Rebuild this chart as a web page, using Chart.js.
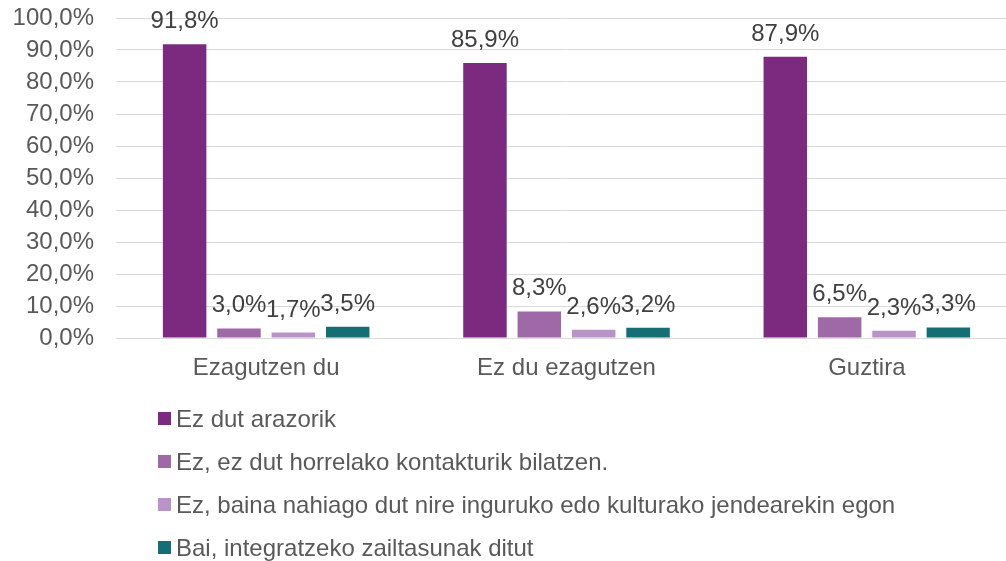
<!DOCTYPE html>
<html>
<head>
<meta charset="utf-8">
<script src="https://cdn.jsdelivr.net/npm/chart.js@4.4.0/dist/chart.umd.min.js"></script>
<style>
  html, body { margin: 0; padding: 0; background: #fff; overflow: hidden; width: 1006px; height: 561px; }
  #wrap { position: relative; width: 1006px; height: 561px; overflow: hidden; }
  canvas { position: absolute; left: 0; top: 0; }
  #legend { position: absolute; left: 158px; top: 397px; font-family: "Liberation Sans", Arial, sans-serif; font-size: 24px; color: #595959; }
  .item { display: flex; align-items: center; height: 43px; white-space: nowrap; }
  .sw { width: 13px; height: 13px; margin-right: 5px; flex: none; }
</style>
</head>
<body>
<div id="wrap">
  <canvas id="c" width="1017" height="561"></canvas>
  <div id="legend"></div>
</div>
<script>
const categories = ["Ezagutzen du", "Ez du ezagutzen", "Guztira"];
const seriesNames = [
  "Ez dut arazorik",
  "Ez, ez dut horrelako kontakturik bilatzen.",
  "Ez, baina nahiago dut nire inguruko edo kulturako jendearekin egon",
  "Bai, integratzeko zailtasunak ditut"
];
const seriesArazorik = [91.8, 85.9, 87.9];
const seriesKontakturik = [3.0, 8.3, 6.5];
const seriesNahiago = [1.7, 2.6, 2.3];
const seriesZailtasunak = [3.5, 3.2, 3.3];
const seriesColors = ["#7C2A80", "#9E69A6", "#B993C8", "#146E73"];
const yTicks = { min: 0, max: 100, step: 10 };

const fmt = v => v.toFixed(1).replace('.', ',') + '%';
const FONT = '"Liberation Sans", Arial, sans-serif';
const FS = 24;

const seriesValues = [seriesArazorik, seriesKontakturik, seriesNahiago, seriesZailtasunak];

const labelPlugin = {
  id: 'valueLabels',
  afterDatasetsDraw(chart) {
    const ctx = chart.ctx;
    ctx.save();
    ctx.font = FS + 'px ' + FONT;
    ctx.fillStyle = '#404040';
    ctx.textAlign = 'center';
    ctx.textBaseline = 'alphabetic';
    chart.data.datasets.forEach((ds, i) => {
      const meta = chart.getDatasetMeta(i);
      meta.data.forEach((el, j) => {
        ctx.fillText(fmt(ds.data[j]), el.x, el.y - 16);
      });
    });
    ctx.restore();
  }
};

const chart = new Chart(document.getElementById('c'), {
  type: 'bar',
  data: {
    labels: categories,
    datasets: seriesNames.map((n, i) => ({
      label: n,
      data: seriesValues[i],
      backgroundColor: seriesColors[i],
      borderWidth: 0,
      categoryPercentage: 0.724,
      barPercentage: 0.8
    }))
  },
  options: {
    responsive: false,
    devicePixelRatio: 1,
    animation: false,
    layout: { autoPadding: false, padding: { top: 18, bottom: 163, left: 0, right: 0 } },
    plugins: { legend: { display: false }, tooltip: { enabled: false } },
    scales: {
      x: {
        grid: { display: false, drawTicks: false },
        border: { display: true, color: '#d9d9d9', width: 1 },
        ticks: { color: '#595959', font: { family: FONT, size: FS }, padding: 16 },
        afterFit: s => { s.height = 60; s.paddingLeft = 0; s.paddingRight = 0; }
      },
      y: {
        min: yTicks.min, max: yTicks.max,
        grid: { color: '#d9d9d9', drawTicks: false, lineWidth: 1 },
        border: { display: false },
        ticks: {
          stepSize: yTicks.step,
          autoSkip: false,
          color: '#595959',
          font: { family: FONT, size: FS },
          padding: 22,
          callback: v => fmt(v)
        },
        afterFit: s => { s.width = 116; s.paddingTop = 0; s.paddingBottom = 0; }
      }
    }
  },
  plugins: [labelPlugin]
});

const leg = document.getElementById('legend');
seriesNames.forEach((n, i) => {
  const d = document.createElement('div');
  d.className = 'item';
  const sw = document.createElement('span');
  sw.className = 'sw';
  sw.style.background = seriesColors[i];
  const t = document.createElement('span');
  t.textContent = n;
  d.appendChild(sw); d.appendChild(t);
  leg.appendChild(d);
});
</script>
</body>
</html>
